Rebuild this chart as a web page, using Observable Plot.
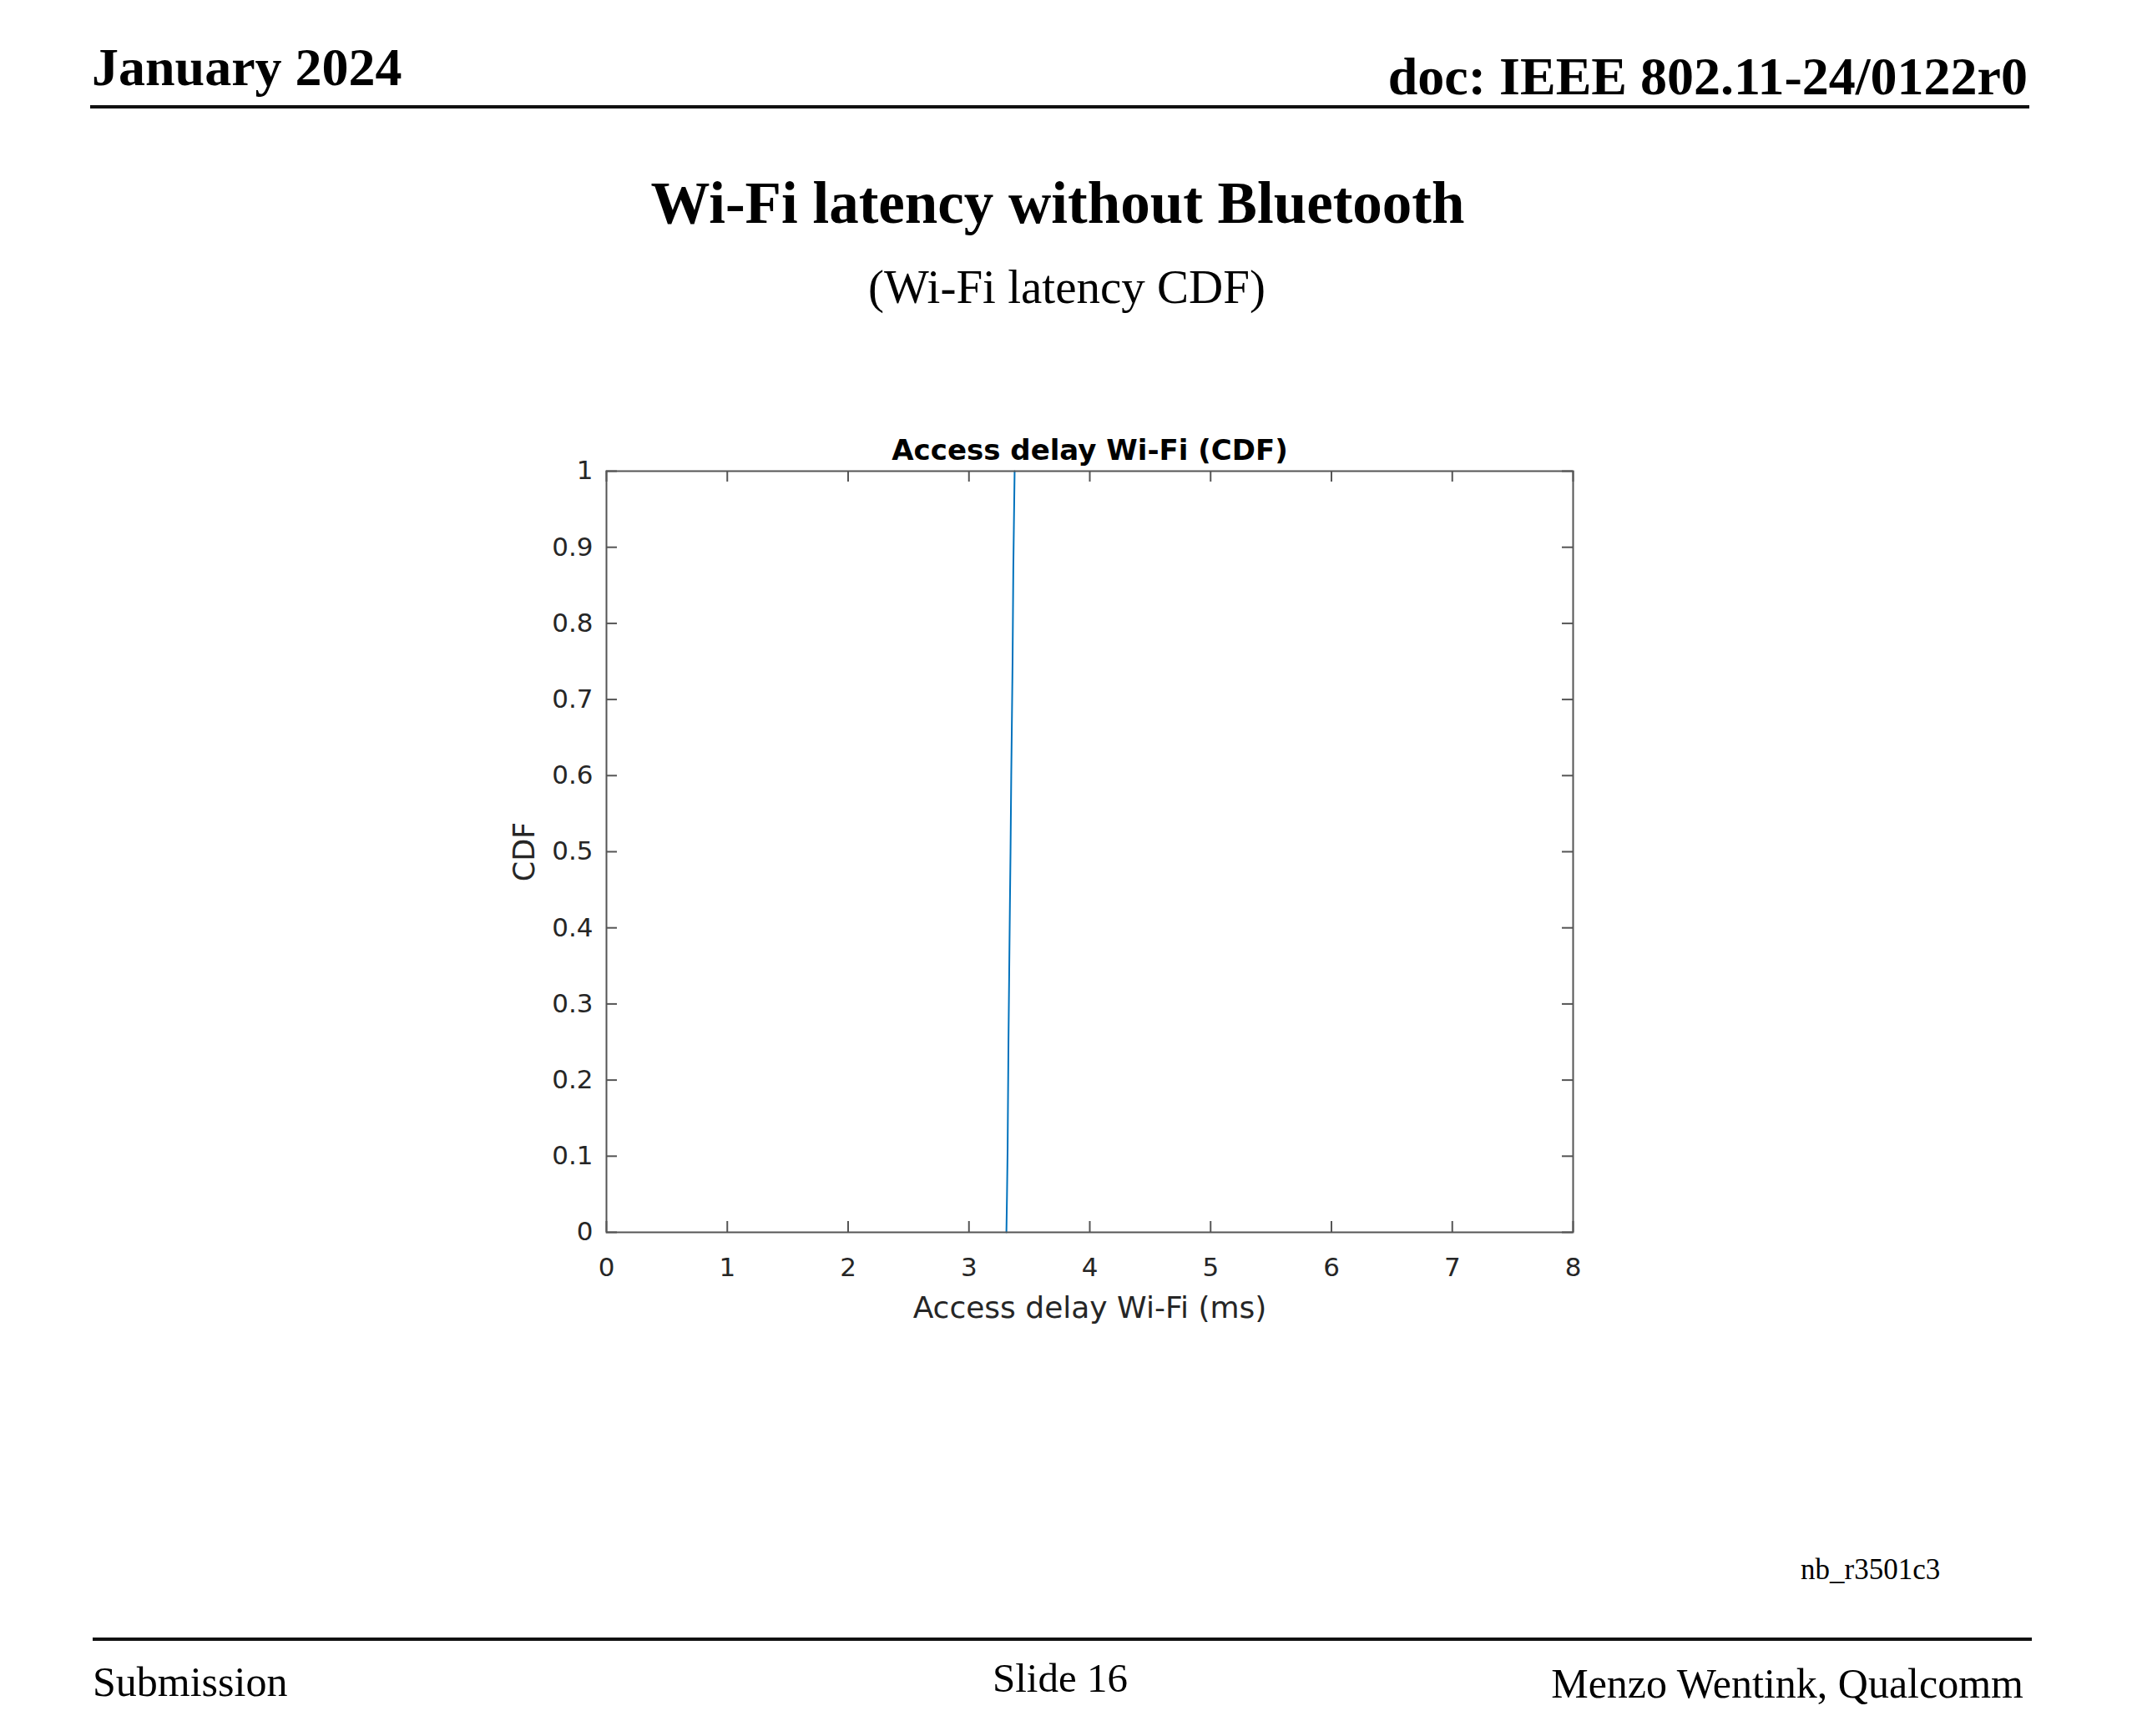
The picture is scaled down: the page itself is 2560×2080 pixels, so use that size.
<!DOCTYPE html>
<html>
<head>
<meta charset="utf-8">
<script src="https://cdn.jsdelivr.net/npm/d3@7"></script>
<script src="https://cdn.jsdelivr.net/npm/@observablehq/plot@0.6"></script>
<style>
  html, body { margin: 0; padding: 0; background: #fff; }
  #page { position: relative; width: 2560px; height: 2080px; background: #fff; overflow: hidden; }
  .serif { position: absolute; font-family: "Liberation Serif", "Times New Roman", serif; line-height: 1; color: #000; white-space: nowrap; }
  .rule { position: absolute; background: #111; }
  #chart { position: absolute; left: 560px; top: 480px; }
</style>
</head>
<body>
<div id="page">
  <div class="serif" style="left:110px; top:49px; font-size:64px; font-weight:bold;">January 2024</div>
  <div class="serif" style="right:131px; top:60px; font-size:64px; font-weight:bold;">doc: IEEE 802.11-24/0122r0</div>
  <div class="rule" style="left:108px; top:126px; width:2323px; height:4px;"></div>
  <div class="serif" style="left:1267px; top:208px; font-size:71px; font-weight:bold; transform:translateX(-50%);">Wi-Fi latency without Bluetooth</div>
  <div class="serif" style="left:1278px; top:315px; font-size:57px; transform:translateX(-50%);">(Wi-Fi latency CDF)</div>
  <div id="chart"></div>
  <div class="serif" style="left:2157px; top:1863px; font-size:35px;">nb_r3501c3</div>
  <div class="rule" style="left:111px; top:1962px; width:2323px; height:4px;"></div>
  <div class="serif" style="left:111px; top:1990px; font-size:50px;">Submission</div>
  <div class="serif" style="left:1270px; top:1986px; font-size:49px; transform:translateX(-50%);">Slide 16</div>
  <div class="serif" style="right:136px; top:1992px; font-size:50px;">Menzo Wentink, Qualcomm</div>
</div>
<script>
// ---- data ----
const chartTitle = "Access delay Wi-Fi (CDF)";
const xLabel = "Access delay Wi-Fi (ms)";
const yLabel = "CDF";
const accessDelayMs = [3.310, 3.315, 3.320, 3.327, 3.333, 3.339, 3.344, 3.350, 3.356, 3.361, 3.367, 3.372, 3.378];
const cdfValues     = [0.00,  0.05,  0.11,  0.25,  0.34,  0.43,  0.50,  0.60,  0.68,  0.75,  0.87,  0.93,  1.00];
const xTicks = [0, 1, 2, 3, 4, 5, 6, 7, 8];
const yTicks = [0, 0.1, 0.2, 0.3, 0.4, 0.5, 0.6, 0.7, 0.8, 0.9, 1];

const cdfData = accessDelayMs.map((x, i) => ({x, y: cdfValues[i]}));

const W = 1400, H = 1140;
const mL = 166, mR = 76, mT = 84, mB = 144;
const plotW = W - mL - mR, plotH = H - mT - mB;
const tickLen = 13;
const axisColor = "#555555";
const textColor = "#262626";
const sans = "DejaVu Sans, Arial, sans-serif";

const chart = Plot.plot({
  width: W,
  height: H,
  marginLeft: mL,
  marginRight: mR,
  marginTop: mT,
  marginBottom: mB,
  style: {fontFamily: sans, fontSize: "31px", color: textColor, background: "white", overflow: "visible"},
  x: {domain: [0, 8], label: null},
  y: {domain: [0, 1], label: null},
  marks: [
    Plot.line(cdfData, {x: "x", y: "y", stroke: "#0072BD", strokeWidth: 2}),
    // inward ticks on all four sides
    Plot.tickX(xTicks, {x: d => d, insetTop: plotH - tickLen, stroke: axisColor, strokeWidth: 2}),
    Plot.tickX(xTicks, {x: d => d, insetBottom: plotH - tickLen, stroke: axisColor, strokeWidth: 2}),
    Plot.tickY(yTicks, {y: d => d, insetRight: plotW - tickLen, stroke: axisColor, strokeWidth: 2}),
    Plot.tickY(yTicks, {y: d => d, insetLeft: plotW - tickLen, stroke: axisColor, strokeWidth: 2}),
    Plot.frame({stroke: axisColor, strokeWidth: 2}),
    Plot.axisX(xTicks, {anchor: "bottom", tickSize: 0, tickPadding: 30, fontSize: 31, label: null, tickFormat: d => String(d)}),
    Plot.axisY(yTicks, {anchor: "left", tickSize: 0, tickPadding: 16, fontSize: 31, label: null, tickFormat: d => String(d)}),
    Plot.text([chartTitle], {text: d => d, frameAnchor: "top", textAnchor: "middle", lineAnchor: "bottom", dy: -14, fontSize: 34, fontWeight: "bold", fill: "#000"}),
    Plot.text([xLabel], {text: d => d, frameAnchor: "bottom", textAnchor: "middle", lineAnchor: "bottom", dy: 102, fontSize: 36, fill: textColor}),
    Plot.text([yLabel], {text: d => d, frameAnchor: "left", textAnchor: "middle", rotate: -90, lineAnchor: "middle", dx: -98, fontSize: 35, fill: textColor})
  ]
});
document.getElementById("chart").appendChild(chart);
</script>
</body>
</html>
